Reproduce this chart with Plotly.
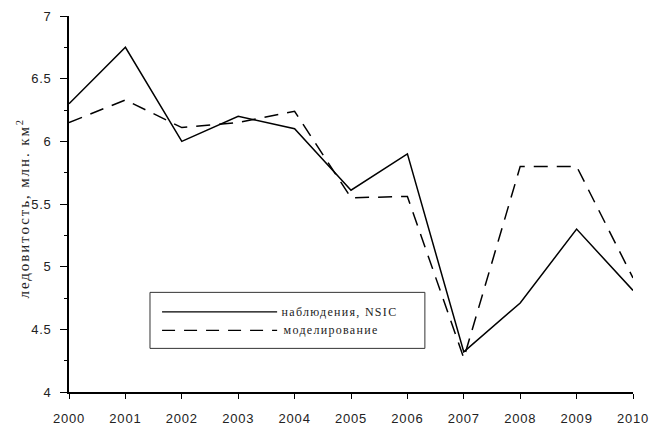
import plotly.graph_objects as go

# Sea-ice extent, million km^2
years = [2000, 2001, 2002, 2003, 2004, 2005, 2006, 2007, 2008, 2009, 2010]
observed_nsic = [6.30, 6.75, 6.00, 6.20, 6.10, 5.61, 5.90, 4.32, 4.71, 5.30, 4.81]
modelled = [6.15, 6.33, 6.11, 6.15, 6.24, 5.55, 5.56, 4.27, 5.80, 5.80, 4.91]

legend_labels = ["наблюдения, NSIC", "моделирование"]
y_title = "ледовитость, млн. км<sup>2</sup>"

fig = go.Figure()
fig.add_trace(go.Scatter(x=years, y=observed_nsic, mode="lines",
                         line=dict(color="black", width=1.5),
                         name=legend_labels[0], showlegend=False))
fig.add_trace(go.Scatter(x=years, y=modelled, mode="lines",
                         line=dict(color="black", width=1.5, dash="14px,9px"),
                         name=legend_labels[1], showlegend=False))

# Hand-built legend box with long line samples
box = dict(x0=0.1436, x1=0.631, y0=0.116, y1=0.265)
fig.add_shape(type="rect", xref="paper", yref="paper", **box,
              line=dict(color="#333", width=1), fillcolor="white", layer="above")
rows_y = [0.213, 0.164]
dashes = ["solid", "13px,9px"]
for label, yy, dash in zip(legend_labels, rows_y, dashes):
    fig.add_shape(type="line", xref="paper", yref="paper",
                  x0=0.165, x1=0.369, y0=yy, y1=yy,
                  line=dict(color="black", width=1.3, dash=dash), layer="above")
    fig.add_annotation(xref="paper", yref="paper", x=0.392, y=yy, text=label,
                       showarrow=False, xanchor="left", yanchor="middle",
                       font=dict(family="Liberation Serif", size=12, color="#222",
                                 style="normal"))

# Rotated y-axis title placed to the left of the tick labels
fig.add_annotation(xref="paper", yref="paper", x=-0.082, y=0.49, text=y_title,
                   textangle=-90, showarrow=False, xanchor="center", yanchor="middle",
                   font=dict(family="Liberation Serif", size=15, color="#222",
                             style="normal"))

tick_font = dict(family="Liberation Sans, Arial", size=13, color="#222")
fig.update_layout(
    width=664, height=428,
    margin=dict(l=69, r=31, t=16, b=36),
    paper_bgcolor="white", plot_bgcolor="white",
    xaxis=dict(range=[2000, 2010], tickmode="linear", tick0=2000, dtick=1,
               showgrid=False, zeroline=False, showline=True, linecolor="black",
               linewidth=1.5, ticks="outside", ticklen=5, tickwidth=1.3,
               tickcolor="black", tickfont=tick_font, ticklabelstandoff=9,
               automargin=False),
    yaxis=dict(range=[4, 7], tickmode="linear", tick0=4, dtick=0.5,
               showgrid=False, zeroline=False, showline=True, linecolor="black",
               linewidth=1.5, ticks="outside", ticklen=7, tickwidth=1.3,
               tickcolor="black", tickfont=tick_font, ticklabelstandoff=6,
               automargin=False,
               minor=dict(ticks="outside", ticklen=3, dtick=0.25, tick0=4,
                          tickcolor="black", tickwidth=1.2)),
)

spacing_js = """
var ann = document.querySelectorAll('.annotation-text');
ann.forEach(function(e, i){e.style.letterSpacing = (i === ann.length - 1) ? '1.9px' : '1.3px';});
document.querySelectorAll('.xtick text, .ytick text').forEach(function(e){e.style.letterSpacing='0.8px';});
"""
fig.write_html("out.html", post_script=spacing_js)
